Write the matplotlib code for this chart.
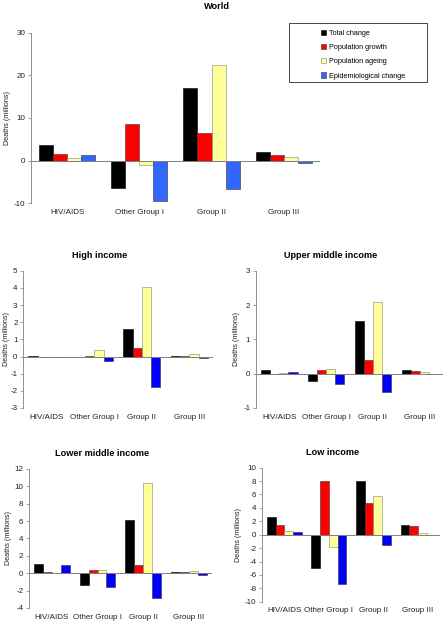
import matplotlib
matplotlib.use("Agg")
import matplotlib.pyplot as plt
import numpy as np
from matplotlib.patches import Rectangle, Patch

plt.rcParams['font.family'] = ['Liberation Sans', 'DejaVu Sans']

categories = ["HIV/AIDS", "Other Group I", "Group II", "Group III"]
series = ["Total change", "Population growth", "Population ageing", "Epidemiological change"]

world = {
    "Total change": [3.7, -6.5, 17.1, 2.0],
    "Population growth": [1.6, 8.7, 6.4, 1.4],
    "Population ageing": [0.6, -1.1, 22.5, 0.8],
    "Epidemiological change": [1.4, -9.6, -6.8, -0.5],
}
high_income = {
    "Total change": [0.01, -0.05, 1.6, 0.05],
    "Population growth": [0.0, 0.05, 0.48, 0.03],
    "Population ageing": [0.0, 0.37, 4.05, 0.12],
    "Epidemiological change": [0.0, -0.25, -1.8, -0.08],
}
upper_middle = {
    "Total change": [0.1, -0.22, 1.53, 0.1],
    "Population growth": [-0.02, 0.1, 0.4, 0.08],
    "Population ageing": [0.02, 0.15, 2.1, 0.05],
    "Epidemiological change": [0.06, -0.3, -0.52, -0.01],
}
lower_middle = {
    "Total change": [1.05, -1.4, 6.1, 0.15],
    "Population growth": [0.1, 0.4, 0.9, 0.15],
    "Population ageing": [0.0, 0.4, 10.4, 0.3],
    "Epidemiological change": [0.9, -1.6, -2.9, -0.25],
}
low_income = {
    "Total change": [2.6, -4.9, 8.0, 1.5],
    "Population growth": [1.4, 8.0, 4.7, 1.3],
    "Population ageing": [0.5, -1.9, 5.8, 0.3],
    "Epidemiological change": [0.4, -7.4, -1.5, 0.0],
}

colors_world = ["#000000", "#FF0000", "#FFFF99", "#3366FF"]
colors_other = ["#000000", "#FF0000", "#FFFF99", "#0000FF"]
edges = ["#000000", "#333333", "#808080", "#333333"]

fig = plt.figure(figsize=(4.45, 6.21), dpi=100)

TICK_FS = 5.8
TITLE_FS = 6.6

def panel(rect, data, ylim, yticks, colors, labelpad=2):
    ax = fig.add_axes(rect)
    x = np.arange(len(categories))
    w = 0.195
    for i, s in enumerate(series):
        ax.bar(x + (i - 1.5) * w, data[s], width=w, color=colors[i],
               edgecolor=edges[i], linewidth=0.4, zorder=2)
    ax.set_xlim(-0.5, 3.5)
    ax.set_ylim(*ylim)
    ax.set_yticks(yticks)
    ax.set_yticklabels([str(t) for t in yticks], fontsize=TICK_FS, color="#222222")
    ax.set_xticks(x)
    ax.set_xticklabels(categories, fontsize=TICK_FS, color="#222222")
    ax.tick_params(axis='x', length=0, pad=4)
    ax.tick_params(axis='y', length=2.5, width=0.5, color="#808080", pad=1.5)
    for sp in ["top", "right", "bottom"]:
        ax.spines[sp].set_visible(False)
    ax.spines["left"].set_color("#808080")
    ax.spines["left"].set_linewidth(0.6)
    ax.axhline(0, color="#808080", linewidth=0.7, zorder=3)
    ax.set_ylabel("Deaths (millions)", fontsize=5.2, color="#222222", labelpad=labelpad)
    ax.patch.set_alpha(0)
    return ax

panel([0.0697, 0.673, 0.649, 0.274], world, (-10, 30), [-10, 0, 10, 20, 30], colors_world)
fig.text(0.487, 0.996, "World", ha="center", va="top", fontsize=TITLE_FS, fontweight="bold")

panel([0.052, 0.343, 0.427, 0.221], high_income, (-3, 5), list(range(-3, 6)), colors_other, labelpad=0.5)
fig.text(0.225, 0.589, "High income", ha="center", va="center", fontsize=TITLE_FS, fontweight="bold")

panel([0.575, 0.343, 0.421, 0.221], upper_middle, (-1, 3), list(range(-1, 4)), colors_other)
fig.text(0.742, 0.588, "Upper middle income", ha="center", va="center", fontsize=TITLE_FS, fontweight="bold")

panel([0.065, 0.021, 0.411, 0.224], lower_middle, (-4, 12), list(range(-4, 13, 2)), colors_other)
fig.text(0.229, 0.269, "Lower middle income", ha="center", va="center", fontsize=TITLE_FS, fontweight="bold")

panel([0.589, 0.031, 0.40, 0.216], low_income, (-10, 10), list(range(-10, 11, 2)), colors_other)
fig.text(0.748, 0.271, "Low income", ha="center", va="center", fontsize=TITLE_FS, fontweight="bold")

# legend box
fig.patches.append(Rectangle((289 / 445, 1 - 82 / 621), 138 / 445, 59 / 621,
                             transform=fig.transFigure, fill=False,
                             edgecolor="#444444", linewidth=0.7))
handles = [Patch(facecolor=colors_world[i], edgecolor=edges[i], linewidth=0.4, label=s)
           for i, s in enumerate(series)]
fig.legend(handles=handles, loc="upper left", bbox_to_anchor=(317 / 445, 1 - 26 / 621),
           frameon=False, fontsize=5.2, handlelength=0.7, handleheight=0.7,
           handletextpad=0.5, labelspacing=1.0, borderpad=0)

fig.savefig("out.png", dpi=100)
